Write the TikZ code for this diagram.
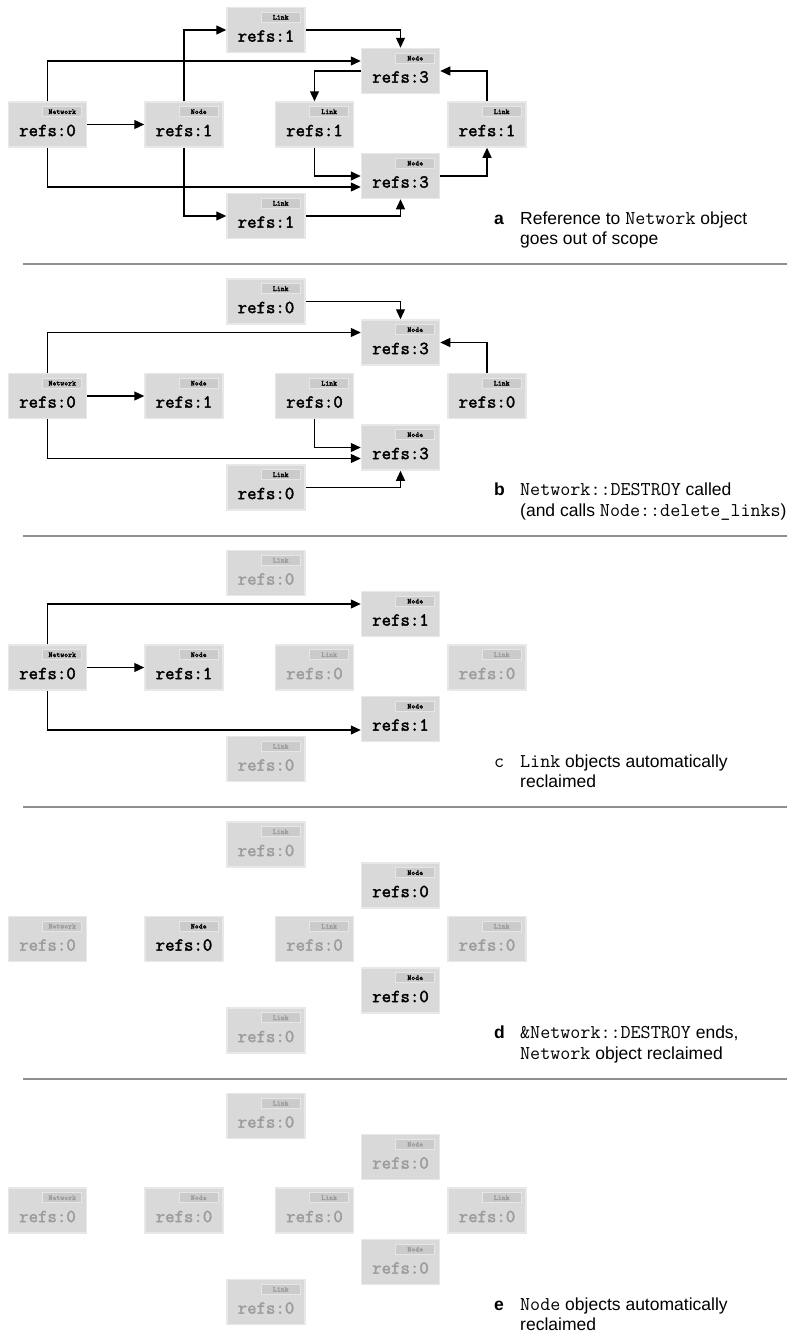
\documentclass[tikz,border=0pt]{standalone}
\usepackage{fontspec}
\setmainfont{Liberation Sans}
\newfontfamily\boldmono{Latin Modern Mono}[AutoFakeBold=2.2]
\usetikzlibrary{arrows.meta}

\definecolor{boxfill}{HTML}{D9D9D9}
\definecolor{boxedge}{HTML}{E8E8E8}
\definecolor{tagfill}{HTML}{CBCBCB}
\definecolor{tagedge}{HTML}{E6E6E6}
\definecolor{fadetext}{HTML}{9C9C9C}
\definecolor{rulegray}{HTML}{8F8F8F}

\newcommand\code[1]{{\ttfamily\fontsize{19.5}{20.5}\selectfont #1}}

\tikzset{
  objbox/.style={rectangle, fill=boxfill, draw=boxedge, line width=1.5pt,
    minimum width=78pt, minimum height=45pt, inner sep=0pt},
  tagbox/.style={rectangle, fill=tagfill, draw=tagedge, line width=1pt,
    minimum width=39pt, minimum height=10pt, inner sep=0pt, anchor=north east,
    font=\boldmono\bfseries\fontsize{7.4}{7.4}\selectfont},
  refstext/.style={inner sep=0pt, font=\boldmono\bfseries\fontsize{18.3}{18.3}\selectfont},
  live/.style={text=black},
  dead/.style={text=fadetext},
  ptr/.style={draw, line width=1.3pt, -{Triangle[length=10pt,width=9pt]}},
  caption/.style={inner sep=0pt, anchor=north west, align=left,
    font=\fontsize{17.5}{20.5}\selectfont},
  letter/.style={caption, text height=12.5pt, font=\bfseries\fontsize{17.5}{20.5}\selectfont},
  sepline/.style={draw=rulegray, line width=2pt},
}

\begin{document}
\begin{tikzpicture}[x=1pt, y=-1pt]
  \useasboundingbox (0,0) rectangle (802,1333);

  % One object box: name, position, class, refcount, live/dead
  \def\ObjBox#1#2#3#4#5{%
    \node[objbox] (#1) at (#2) {};
    \node[tagbox,#5] (#1-tag) at ([xshift=-5pt,yshift=-5pt]#1.north east) {#3};
    \node[refstext,#5] (#1-refs) at ([yshift=-6pt]#1.center) {refs:#4};
  }

  % Separators between the stages
  \foreach \k in {0,...,3}
    \draw[sepline] (23,{264+271.5*\k}) -- (787,{264+271.5*\k});

  % a: the reference to the network goes away
  \begin{scope}
    \ObjBox{a-net}{47.5,124.5}{Network}{0}{live}
    \ObjBox{a-node}{184,124.5}{Node}{1}{live}
    \ObjBox{a-lt}{266,30}{Link}{1}{live}
    \ObjBox{a-nt}{400.5,71}{Node}{3}{live}
    \ObjBox{a-lm}{314.5,124.5}{Link}{1}{live}
    \ObjBox{a-lr}{487,124.5}{Link}{1}{live}
    \ObjBox{a-nb}{400.5,176}{Node}{3}{live}
    \ObjBox{a-lb}{266,216}{Link}{1}{live}

    \draw[ptr] (a-net.north) |- ([yshift=10pt]a-nt.west);
    \draw[ptr] (a-net.east) -- (a-node.west);
    \draw[ptr] (a-net.south) |- ([yshift=-11pt]a-nb.west);
    \draw[ptr] (a-node.north) |- (a-lt.west);
    \draw[ptr] (a-node.south) |- (a-lb.west);
    \draw[ptr] (a-lt.east) -| (a-nt.north);
    \draw[ptr] (a-lb.east) -| (a-nb.south);
    \draw[ptr] (a-nt.west) -| (a-lm.north);
    \draw[ptr] (a-lm.south) |- (a-nb.west);
    \draw[ptr] (a-lr.north) |- (a-nt.east);
    \draw[ptr] (a-nb.east) -| (a-lr.south);

    \node[letter] (a-cap-l) at (494,211.5) {a};
    \node[caption] (a-cap) at (520,211.5) {Reference to \code{Network} object\\goes out of scope};
  \end{scope}

  % b: Network::DESTROY runs
  \begin{scope}[yshift=-271.5pt]
    \ObjBox{b-net}{47.5,124.5}{Network}{0}{live}
    \ObjBox{b-node}{184,124.5}{Node}{1}{live}
    \ObjBox{b-lt}{266,30}{Link}{0}{live}
    \ObjBox{b-nt}{400.5,71}{Node}{3}{live}
    \ObjBox{b-lm}{314.5,124.5}{Link}{0}{live}
    \ObjBox{b-lr}{487,124.5}{Link}{0}{live}
    \ObjBox{b-nb}{400.5,176}{Node}{3}{live}
    \ObjBox{b-lb}{266,216}{Link}{0}{live}

    \draw[ptr] (b-net.north) |- ([yshift=10pt]b-nt.west);
    \draw[ptr] (b-net.east) -- (b-node.west);
    \draw[ptr] (b-net.south) |- ([yshift=-11pt]b-nb.west);
    \draw[ptr] (b-lt.east) -| (b-nt.north);
    \draw[ptr] (b-lb.east) -| (b-nb.south);
    \draw[ptr] (b-lm.south) |- (b-nb.west);
    \draw[ptr] (b-lr.north) |- (b-nt.east);

    \node[letter] (b-cap-l) at (494,211.5) {b};
    \node[caption] (b-cap) at (520,211.5) {\code{Network::DESTROY} called\\(and calls \code{Node::delete\_links})};
  \end{scope}

  % c: links reclaimed
  \begin{scope}[yshift=-543pt]
    \ObjBox{c-net}{47.5,124.5}{Network}{0}{live}
    \ObjBox{c-node}{184,124.5}{Node}{1}{live}
    \ObjBox{c-lt}{266,30}{Link}{0}{dead}
    \ObjBox{c-nt}{400.5,71}{Node}{1}{live}
    \ObjBox{c-lm}{314.5,124.5}{Link}{0}{dead}
    \ObjBox{c-lr}{487,124.5}{Link}{0}{dead}
    \ObjBox{c-nb}{400.5,176}{Node}{1}{live}
    \ObjBox{c-lb}{266,216}{Link}{0}{dead}

    \draw[ptr] (c-net.north) |- ([yshift=10pt]c-nt.west);
    \draw[ptr] (c-net.east) -- (c-node.west);
    \draw[ptr] (c-net.south) |- ([yshift=-11pt]c-nb.west);

    \node[letter, font=\ttfamily\fontsize{19.5}{20.5}\selectfont] (c-cap-l) at (494,211.5) {c};
    \node[caption] (c-cap) at (520,211.5) {\code{Link} objects automatically\\reclaimed};
  \end{scope}

  % d: network reclaimed
  \begin{scope}[yshift=-814.5pt]
    \ObjBox{d-net}{47.5,124.5}{Network}{0}{dead}
    \ObjBox{d-node}{184,124.5}{Node}{0}{live}
    \ObjBox{d-lt}{266,30}{Link}{0}{dead}
    \ObjBox{d-nt}{400.5,71}{Node}{0}{live}
    \ObjBox{d-lm}{314.5,124.5}{Link}{0}{dead}
    \ObjBox{d-lr}{487,124.5}{Link}{0}{dead}
    \ObjBox{d-nb}{400.5,176}{Node}{0}{live}
    \ObjBox{d-lb}{266,216}{Link}{0}{dead}

    \node[letter] (d-cap-l) at (494,211.5) {d};
    \node[caption] (d-cap) at (520,211.5) {\code{\&Network::DESTROY} ends,\\\code{Network} object reclaimed};
  \end{scope}

  % e: nodes reclaimed
  \begin{scope}[yshift=-1086pt]
    \ObjBox{e-net}{47.5,124.5}{Network}{0}{dead}
    \ObjBox{e-node}{184,124.5}{Node}{0}{dead}
    \ObjBox{e-lt}{266,30}{Link}{0}{dead}
    \ObjBox{e-nt}{400.5,71}{Node}{0}{dead}
    \ObjBox{e-lm}{314.5,124.5}{Link}{0}{dead}
    \ObjBox{e-lr}{487,124.5}{Link}{0}{dead}
    \ObjBox{e-nb}{400.5,176}{Node}{0}{dead}
    \ObjBox{e-lb}{266,216}{Link}{0}{dead}

    \node[letter] (e-cap-l) at (494,211.5) {e};
    \node[caption] (e-cap) at (520,211.5) {\code{Node} objects automatically\\reclaimed};
  \end{scope}
\end{tikzpicture}
\end{document}
